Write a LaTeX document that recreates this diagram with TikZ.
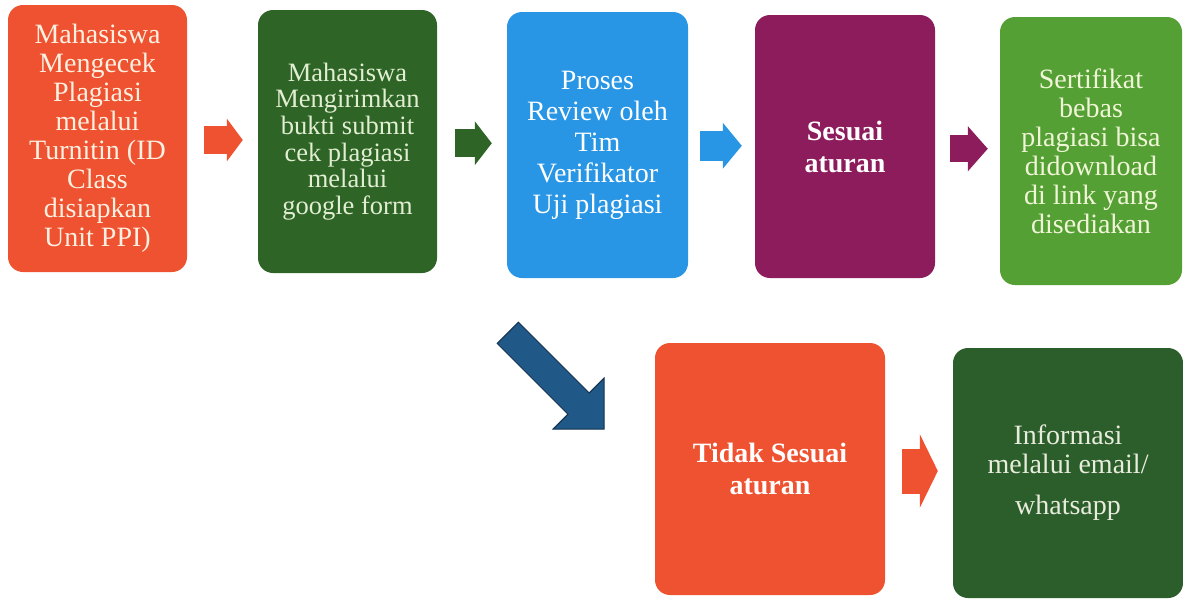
\documentclass[tikz,border=0pt]{standalone}
\usepackage{fontspec}
\setmainfont{Liberation Serif}
\usetikzlibrary{arrows.meta,calc}
\definecolor{cOrange}{RGB}{238,82,48}
\definecolor{cDkGreen}{RGB}{46,100,38}
\definecolor{cBlue}{RGB}{40,150,228}
\definecolor{cPurple}{RGB}{140,28,92}
\definecolor{cGreen}{RGB}{84,160,52}
\definecolor{cDkGreenB}{RGB}{44,94,44}
\definecolor{cNavy}{RGB}{32,88,135}
\definecolor{cNavyLine}{RGB}{20,50,80}
\definecolor{tCream}{RGB}{252,240,225}
\definecolor{tPaleGreen}{RGB}{225,238,210}
\definecolor{tPaleYellow}{RGB}{240,245,215}
\definecolor{tPaleGrey}{RGB}{232,236,220}
\begin{document}
\begin{tikzpicture}[x=1pt,y=-1pt,
  box/.style={rounded corners=15pt, inner sep=0pt, align=center},
  harrow/.style n args={4}{draw=#4, line width=#1pt, -{Triangle[width=#2pt,length=#3pt,fill=#4]}},
  f26/.style={font=\fontsize{26.5}{26.6}\selectfont},
  f28/.style={font=\fontsize{28}{29}\selectfont},
  f28b/.style={font=\fontsize{28}{31}\selectfont},
  f28bold/.style={font=\bfseries\fontsize{28}{32}\selectfont}
]
\useasboundingbox (0,0) rectangle (1183,600);

% top row
\node[box, fill=cOrange, text=tCream, f28, minimum width=179pt, minimum height=267pt] (b1) at (97.5,138.5)
  {Mahasiswa\\Mengecek\\Plagiasi\\melalui\\Turnitin (ID\\Class\\disiapkan\\Unit PPI)};
\node[box, fill=cDkGreen, text=tPaleGreen, f26, minimum width=179pt, minimum height=263pt] (b2) at (347.5,141.5)
  {Mahasiswa\\Mengirimkan\\bukti submit\\cek plagiasi\\melalui\\google form};
\node[box, fill=cBlue, text=white, f28b, minimum width=181pt, minimum height=266pt] (b3) at (597.5,145)
  {Proses\\Review oleh\\Tim\\Verifikator\\Uji plagiasi};
\node[box, fill=cPurple, text=white, f28bold, minimum width=180pt, minimum height=263pt] (b4) at (845,146.5)
  {Sesuai\\aturan};
\node[box, fill=cGreen, text=tPaleYellow, f28, minimum width=182pt, minimum height=268pt] (b5) at (1091,151)
  {Sertifikat\\bebas\\plagiasi bisa\\didownload\\di link yang\\disediakan};

% bottom row
\node[box, fill=cOrange, text=white, f28bold, minimum width=230pt, minimum height=252pt] (b6) at (770,469)
  {Tidak Sesuai\\aturan};
\node[box, fill=cDkGreenB, text=tPaleGrey, f28, minimum width=230pt, minimum height=250pt] (b7) at (1068,473)
  {Informasi\\melalui email/\\[12pt]whatsapp};

% horizontal block arrows
\coordinate (m12) at ($(b1.east)!0.5!(b2.west)$);
\coordinate (m23) at ($(b2.east)!0.5!(b3.west)$);
\coordinate (m34) at ($(b3.east)!0.5!(b4.west)$);
\coordinate (m45) at ($(b4.east)!0.5!(b5.west)$);
\coordinate (m67) at ($(b6.east)!0.5!(b7.west)$);

\draw[harrow={28}{42}{16}{cOrange}, shorten <=17pt, shorten >=15pt] (b1.east |- m12) -- (b2.west |- m12);
\draw[harrow={28}{43}{17}{cDkGreen}, shorten <=18pt, shorten >=15pt] (b2.east |- m23) -- (b3.west |- m23);
\draw[harrow={30}{45}{19}{cBlue}, shorten <=12pt, shorten >=13pt] (b3.east |- m34) -- (b4.west |- m34);
\draw[harrow={27}{44}{20}{cPurple}, shorten <=15pt, shorten >=12pt] (b4.east |- m45) -- (b5.west |- m45);
\draw[harrow={45}{73}{18}{cOrange}, shorten <=17pt, shorten >=15pt] (b6.east |- m67) -- (b7.west |- m67);

% diagonal block arrow (b3 -> b6)
\coordinate (dtip) at (604,429);
\fill[cNavy, draw=cNavyLine, line width=1pt, line join=miter]
  (518.44,322.22) -- (589.15,392.93) -- (604,378.08) -- (dtip) -- (553.08,429)
  -- (567.93,414.15) -- (497.22,343.44) -- cycle;
\end{tikzpicture}
\end{document}
